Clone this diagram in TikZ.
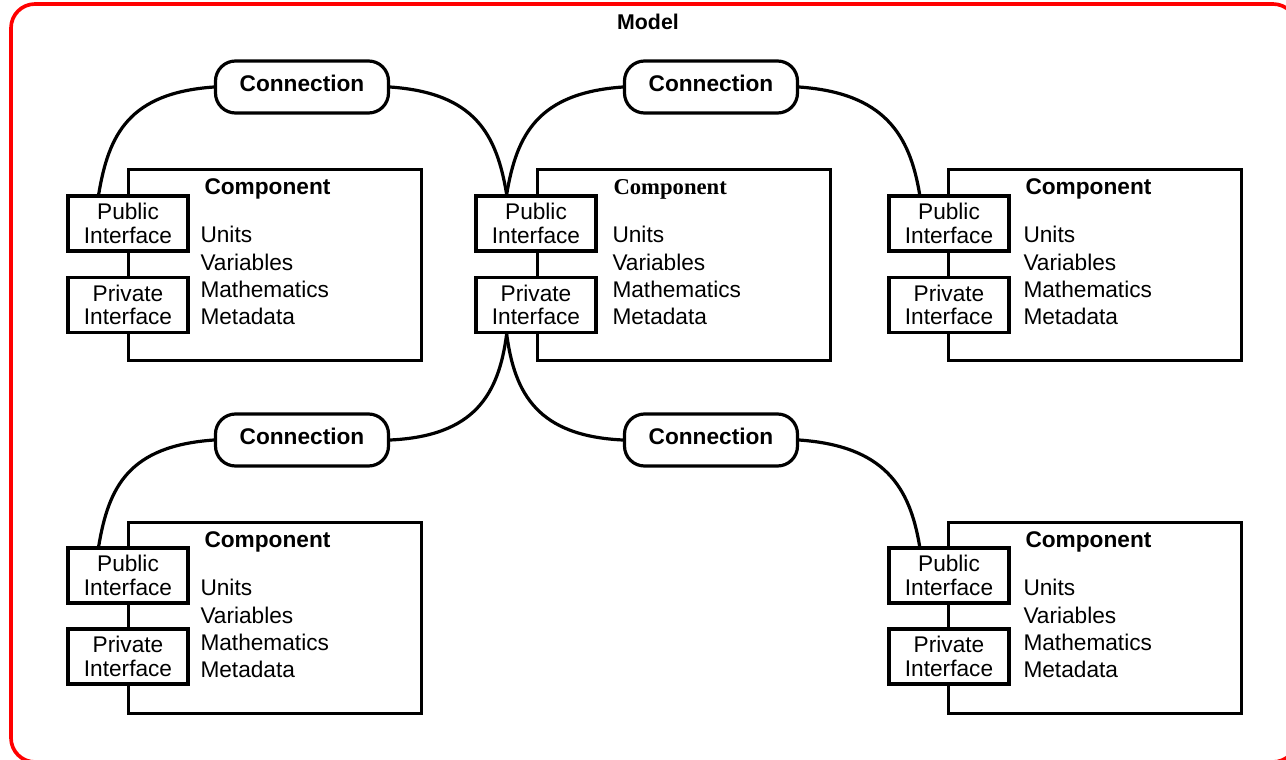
\documentclass[tikz,border=0pt]{standalone}
\usepackage{fontspec}
\setmainfont{Liberation Sans}
\newfontfamily\compserif{Liberation Serif}
\tikzset{every picture/.style={line width=0.75pt}}
\tikzset{
  compbox/.style={draw, line width=2.4pt, anchor=north west, minimum width=219.75pt, minimum height=143.25pt, inner sep=0pt},
  iface/.style={draw, fill=white, line width=2.4pt, minimum width=90pt, minimum height=41.25pt, inner sep=0pt, align=center, font=\fontsize{17}{17.5}\selectfont},
  conn/.style={draw, fill=white, line width=2.4pt, rounded corners=15pt, minimum width=129.75pt, minimum height=39pt, text depth=6pt, font=\bfseries\fontsize{17}{20}\selectfont},
  comptitle/.style={anchor=base west, inner sep=0pt, font=\bfseries\fontsize{17}{20}\selectfont},
  compbody/.style={anchor=north west, inner sep=0pt, align=left, font=\fontsize{17}{20.5}\selectfont},
  link/.style={line width=2.4pt}
}

\begin{document}
\begin{tikzpicture}[x=0.75pt,y=0.75pt,yscale=-1,xscale=1]
\useasboundingbox (0,0) rectangle (1286,760);
%Shape: Rounded Rect (model frame)
\draw [draw=red, line width=2.75pt, rounded corners=18pt] (11,4) rectangle (1297,762);
% Text Node
\node [font=\bfseries\fontsize{16}{18}\selectfont] (model) at (648,22) {Model};

%Shape: Rectangle (components)
\node [compbox] (compA) at (127,168) {};
\node [compbox] (compB) at (536,168) {};
\node [compbox] (compC) at (947,168) {};
\node [compbox] (compD) at (127,521) {};
\node [compbox] (compE) at (947,521) {};

% Text Node
\node [comptitle] (titleA) at (204,194) {Component};
\node [comptitle, font=\compserif\bfseries\fontsize{17}{20}\selectfont] (titleB) at (613,194) {Component};
\node [comptitle] (titleC) at (1025,194) {Component};
\node [comptitle] (titleD) at (204,547) {Component};
\node [comptitle] (titleE) at (1025,547) {Component};
% Text Node
\node [compbody] (bodyA) at (200,226) {Units\\Variables\\Mathematics\\Metadata};
\node [compbody] (bodyB) at (612,226) {Units\\Variables\\Mathematics\\Metadata};
\node [compbody] (bodyC) at (1023,226) {Units\\Variables\\Mathematics\\Metadata};
\node [compbody] (bodyD) at (200,579) {Units\\Variables\\Mathematics\\Metadata};
\node [compbody] (bodyE) at (1023,579) {Units\\Variables\\Mathematics\\Metadata};

%Shape: Rectangle (interfaces)
\node [iface] (pubA) at (128,223.5) {Public\\Interface};
\node [iface] (privA) at (128,305) {Private\\Interface};
\node [iface] (pubB) at (536,223.5) {Public\\Interface};
\node [iface] (privB) at (536,305) {Private\\Interface};
\node [iface] (pubC) at (949,223.5) {Public\\Interface};
\node [iface] (privC) at (949,305) {Private\\Interface};
\node [iface] (pubD) at (128,575.5) {Public\\Interface};
\node [iface] (privD) at (128,656.5) {Private\\Interface};
\node [iface] (pubE) at (949,575.5) {Public\\Interface};
\node [iface] (privE) at (949,656.5) {Private\\Interface};

%Shape: Rounded Rect (connections)
\node [conn] (conA) at (302,87) {Connection};
\node [conn] (conB) at (711,87) {Connection};
\node [conn] (conC) at (302,440) {Connection};
\node [conn] (conD) at (711,440) {Connection};

%Curve Lines
\draw [link] (conA.west) .. controls +(-85,6) and +(10,-60) .. ([xshift=-22pt]pubA.north);
\draw [link] (conA.east) .. controls +(85,6) and +(-10,-60) .. ([xshift=-22pt]pubB.north);
\draw [link] (conB.west) .. controls +(-85,6) and +(10,-60) .. ([xshift=-22pt]pubB.north);
\draw [link] (conB.east) .. controls +(85,6) and +(-10,-60) .. ([xshift=-22pt]pubC.north);
\draw [link] ([xshift=-22pt]privB.south) .. controls +(-8,60) and +(85,-4) .. (conC.east);
\draw [link] ([xshift=-22pt]privB.south) .. controls +(8,60) and +(-85,-4) .. (conD.west);
\draw [link] (conC.west) .. controls +(-85,6) and +(10,-60) .. ([xshift=-22pt]pubD.north);
\draw [link] (conD.east) .. controls +(85,6) and +(-10,-60) .. ([xshift=-22pt]pubE.north);
\end{tikzpicture}
\end{document}
